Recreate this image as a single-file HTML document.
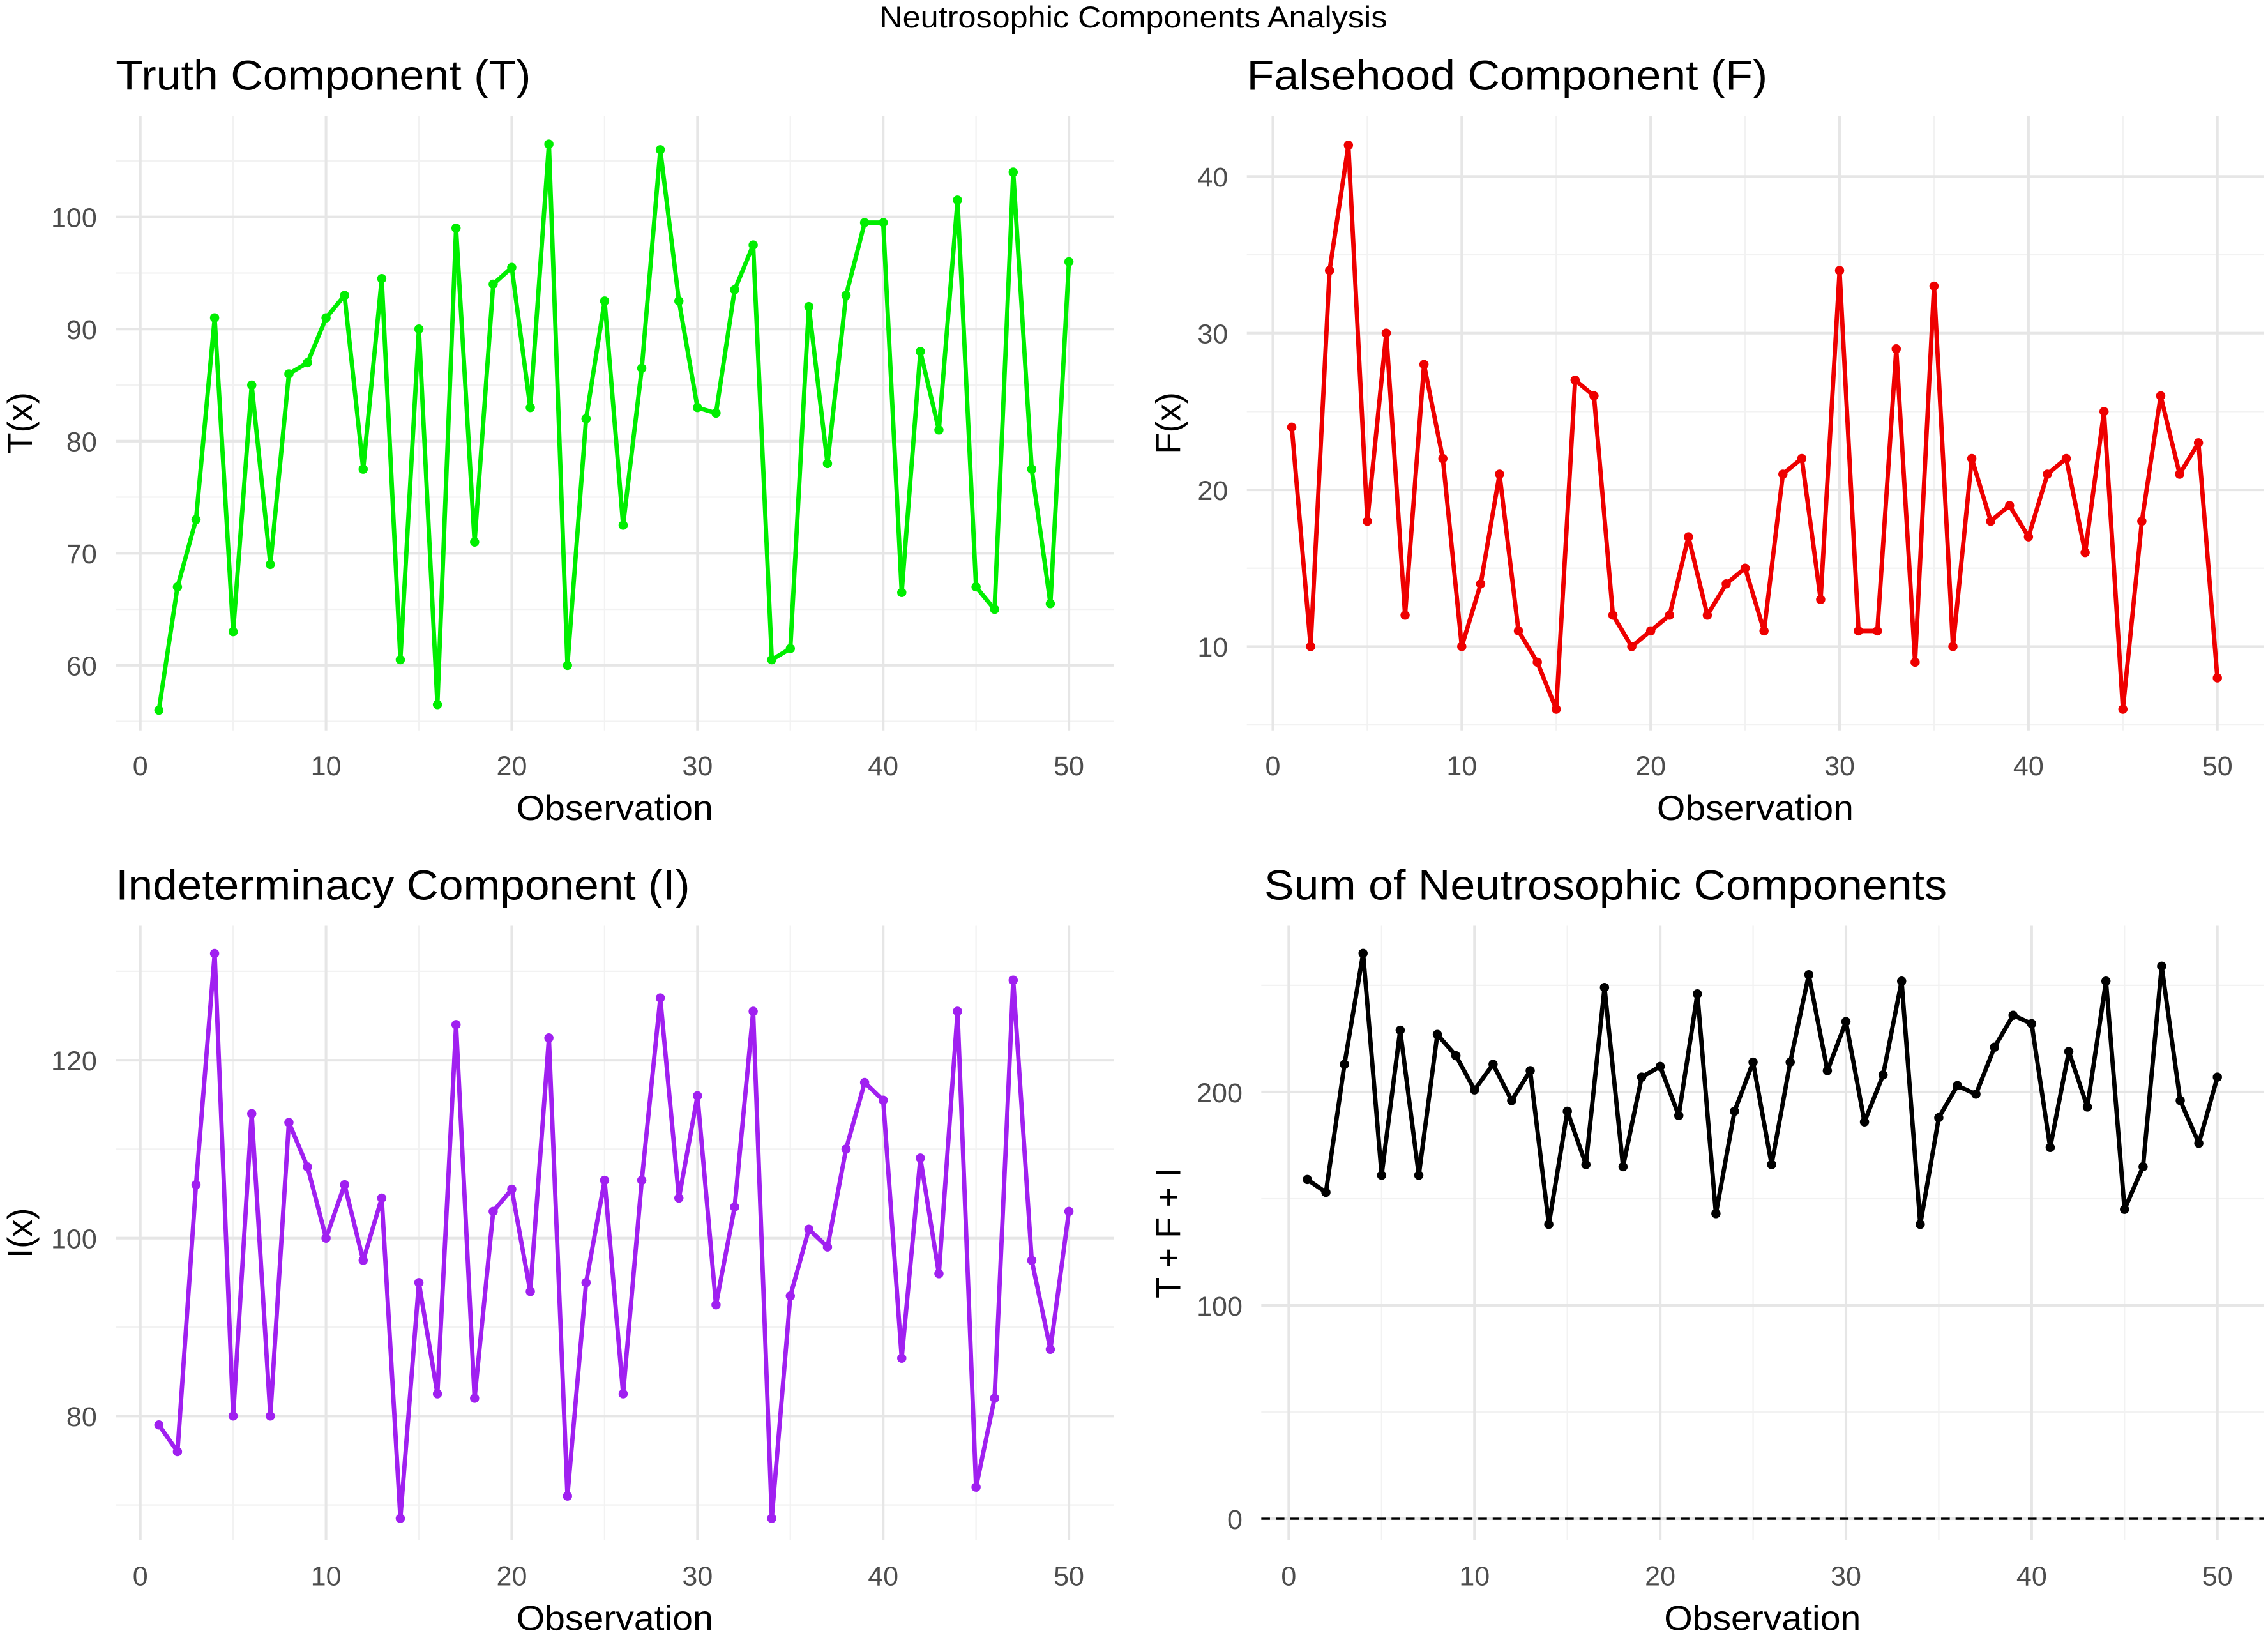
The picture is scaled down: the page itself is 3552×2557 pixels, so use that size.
<!DOCTYPE html>
<html><head><meta charset="utf-8"><style>
html,body{margin:0;padding:0;background:#fff}
svg{display:block}
</style></head><body>
<svg id="s" width="3552" height="2557" viewBox="0 0 1568 1129" preserveAspectRatio="none" xmlns="http://www.w3.org/2000/svg" font-family="Liberation Sans, sans-serif">
<rect width="1568" height="1129" fill="#fff"/>
<text x="608" y="19" font-size="21" textLength="351" lengthAdjust="spacingAndGlyphs">Neutrosophic Components Analysis</text>
</svg>
<script>
var T=[56,67,73,91,63,85,69,86,87,91,93,77.5,94.5,60.5,90,56.5,99,71,94,95.5,83,106.5,60,82,92.5,72.5,86.5,106,92.5,83,82.5,93.5,97.5,60.5,61.5,92,78,93,99.5,99.5,66.5,88,81,101.5,67,65,104,77.5,65.5,96];
var F=[24,10,34,42,18,30,12,28,22,10,14,21,11,9,6,27,26,12,10,11,12,17,12,14,15,11,21,22,13,34,11,11,29,9,33,10,22,18,19,17,21,22,16,25,6,18,26,21,23,8];
var I=[79,76,106,132,80,114,80,113,108,100,106,97.5,104.5,68.5,95,82.5,124,82,103,105.5,94,122.5,71,95,106.5,82.5,106.5,127,104.5,116,92.5,103.5,125.5,68.5,93.5,101,99,110,117.5,115.5,86.5,109,96,125.5,72,82,129,97.5,87.5,103];
var S=T.map((v,i)=>v+F[i]+I[i]);
var svg=document.getElementById('s'),h='';
function panel(o){
 var L=o.L,R=o.R,Tp=o.Tp,B=o.B;
 var X=v=>o.x0+(o.x50-o.x0)*v/50, Y=v=>o.ya+(o.yb-o.ya)*(v-o.va)/(o.vb-o.va);
 for(var v=5;v<=45;v+=10) h+=`<line x1="${X(v)}" x2="${X(v)}" y1="${Tp}" y2="${B}" stroke="#f2f2f2" stroke-width="1"/>`;
 o.minY.forEach(v=>h+=`<line x1="${L}" x2="${R}" y1="${Y(v)}" y2="${Y(v)}" stroke="#f2f2f2" stroke-width="1"/>`);
 for(var v=0;v<=50;v+=10){h+=`<line x1="${X(v)}" x2="${X(v)}" y1="${Tp}" y2="${B}" stroke="#e6e6e6" stroke-width="1.8"/>`;
  h+=`<text x="${X(v)}" y="${B+31}" font-size="19" fill="#4d4d4d" text-anchor="middle">${v}</text>`;}
 o.majY.forEach(v=>{h+=`<line x1="${L}" x2="${R}" y1="${Y(v)}" y2="${Y(v)}" stroke="#e6e6e6" stroke-width="1.8"/>`;
  h+=`<text x="${L-13}" y="${Y(v)+7}" font-size="19" fill="#4d4d4d" text-anchor="end">${v}</text>`;});
 if(o.dash) h+=`<line x1="${L}" x2="${R}" y1="${Y(0)}" y2="${Y(0)}" stroke="#000" stroke-width="1.5" stroke-dasharray="6,4"/>`;
 var pts=o.d.map((v,i)=>X(i+1).toFixed(1)+','+Y(v).toFixed(1)).join(' ');
 h+=`<polyline points="${pts}" fill="none" stroke="${o.c}" stroke-width="3" stroke-linejoin="round"/>`;
 o.d.forEach((v,i)=>h+=`<circle cx="${X(i+1)}" cy="${Y(v)}" r="3.2" fill="${o.c}"/>`);
 h+=`<text x="${o.tx}" y="${Tp-18}" font-size="29" textLength="${o.tw}" lengthAdjust="spacingAndGlyphs">${o.t}</text>`;
 h+=`<text x="${(L+R)/2}" y="${B+62}" font-size="24" text-anchor="middle" textLength="136" lengthAdjust="spacingAndGlyphs">Observation</text>`;
 var cy=(Tp+B)/2;
 h+=`<text transform="translate(${o.yl},${cy}) rotate(-90)" font-size="24" text-anchor="middle">${o.yt}</text>`;
}
panel({L:80,R:770,Tp:80,B:505,x0:97,x50:739,va:100,ya:150,vb:60,yb:460,majY:[60,70,80,90,100],minY:[55,65,75,85,95,105],d:T,c:"#00ee00",t:"Truth Component (T)",tx:80,tw:287,yt:"T(x)",yl:22});
panel({L:862,R:1565,Tp:80,B:505,x0:880,x50:1533,va:40,ya:122,vb:10,yb:447,majY:[10,20,30,40],minY:[5,15,25,35],d:F,c:"#ee0000",t:"Falsehood Component (F)",tx:862,tw:360,yt:"F(x)",yl:816});
panel({L:80,R:770,Tp:640,B:1065,x0:97,x50:739,va:120,ya:733,vb:80,yb:979,majY:[80,100,120],minY:[70,90,110,130],d:I,c:"#a020f0",t:"Indeterminacy Component (I)",tx:80,tw:397,yt:"I(x)",yl:22});
panel({L:872,R:1565,Tp:640,B:1065,x0:891,x50:1533,va:200,ya:755,vb:0,yb:1050,majY:[0,100,200],minY:[50,150,250],d:S,c:"#000",t:"Sum of Neutrosophic Components",tx:874,tw:472,yt:"T + F + I",yl:816,dash:1});
svg.insertAdjacentHTML('beforeend',h);
</script>
</body></html>
